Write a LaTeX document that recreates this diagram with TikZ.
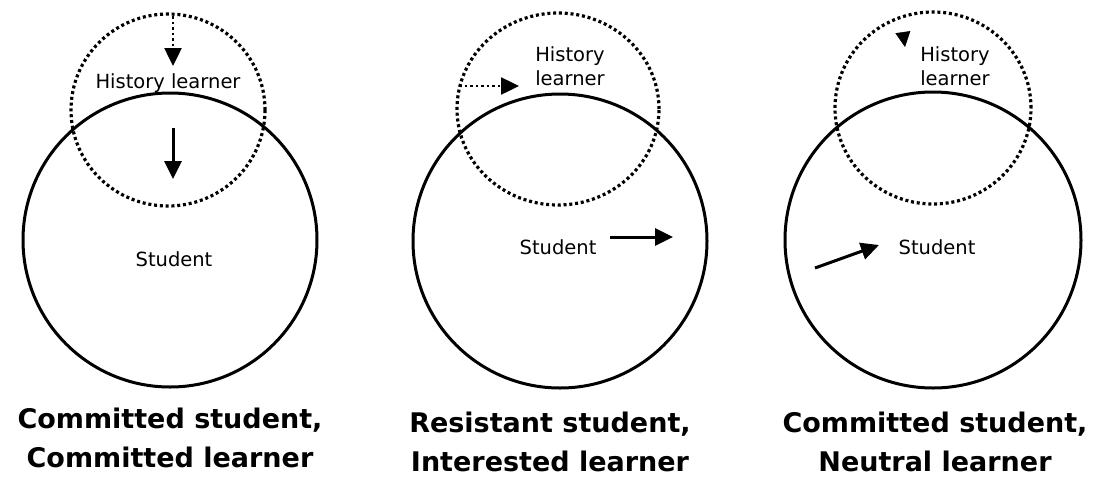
\documentclass[tikz,border=0pt]{standalone}
\usepackage{fontspec}
\setmainfont{DejaVu Sans}
\usetikzlibrary{arrows.meta,shapes.geometric}
\begin{document}
\begin{tikzpicture}[x=1pt,y=-1pt,
  selfcircle/.style={circle,draw,line width=3pt,inner sep=0pt},
  learnerring/.style={ellipse,draw,line width=3.2pt,dash pattern=on 3pt off 2.8pt,inner sep=0pt},
  smalltext/.style={font=\fontsize{19.5}{24}\selectfont,align=center,inner sep=1pt},
  caption/.style={font=\bfseries\fontsize{27}{39.5}\selectfont,align=center,inner sep=0pt},
  move/.style={line width=3pt,-{Triangle[length=18pt,width=17pt]}},
  dottedmove/.style={line width=2.5pt,dash pattern=on 2.5pt off 3pt,-{Triangle[length=18pt,width=17pt,sep=0pt]}}]
\useasboundingbox[fill=white] (0,0) rectangle (1096,480);

% Committed student, committed learner
\node[learnerring,minimum width=194pt,minimum height=192pt] (h1) at (168,110) {};
\node[selfcircle,minimum size=294pt] (s1) at (170,240) {};
\node[smalltext] (t1) at (168,83) {History learner};
\node[smalltext] (u1) at (174,259) {Student};
\coordinate (a1s) at (173,16);
\coordinate (a1e) at (173,66);
\coordinate (b1s) at (173,128);
\coordinate (b1e) at (173,179);
\draw[dottedmove] (a1s) -- (a1e);
\draw[move] (b1s) -- (b1e);
\node[caption] (c1) at (170,438) {Committed student,\\Committed learner};

% Resistant student, interested learner
\node[learnerring,minimum width=202pt,minimum height=192pt] (h2) at (558,109) {};
\node[selfcircle,minimum size=294pt] (s2) at (560,241) {};
\node[smalltext] (t2) at (570,66) {History\\learner};
\node[smalltext] (u2) at (558,247) {Student};
\coordinate (a2s) at (459,86);
\coordinate (a2e) at (519,86);
\coordinate (b2s) at (610,237);
\coordinate (b2e) at (673,237);
\draw[dottedmove] (a2s) -- (a2e);
\draw[move] (b2s) -- (b2e);
\node[caption] (c2) at (550,442) {Resistant student,\\Interested learner};

% Committed student, neutral learner
\node[learnerring,minimum width=196pt,minimum height=192pt] (h3) at (933,108) {};
\node[selfcircle,minimum size=296pt] (s3) at (933,240) {};
\node[smalltext] (t3) at (955,66) {History\\learner};
\node[smalltext] (u3) at (937,247) {Student};
\coordinate (a3s) at (903,33);
\coordinate (a3e) at (905,47);
\coordinate (b3s) at (815,268);
\coordinate (b3e) at (879,245);
\draw[-{Triangle[length=15pt,width=15pt]},line width=0.5pt,shorten <=1pt] (a3s) -- (a3e);
\draw[move] (b3s) -- (b3e);
\node[caption] (c3) at (935,442) {Committed student,\\Neutral learner};
\end{tikzpicture}
\end{document}
